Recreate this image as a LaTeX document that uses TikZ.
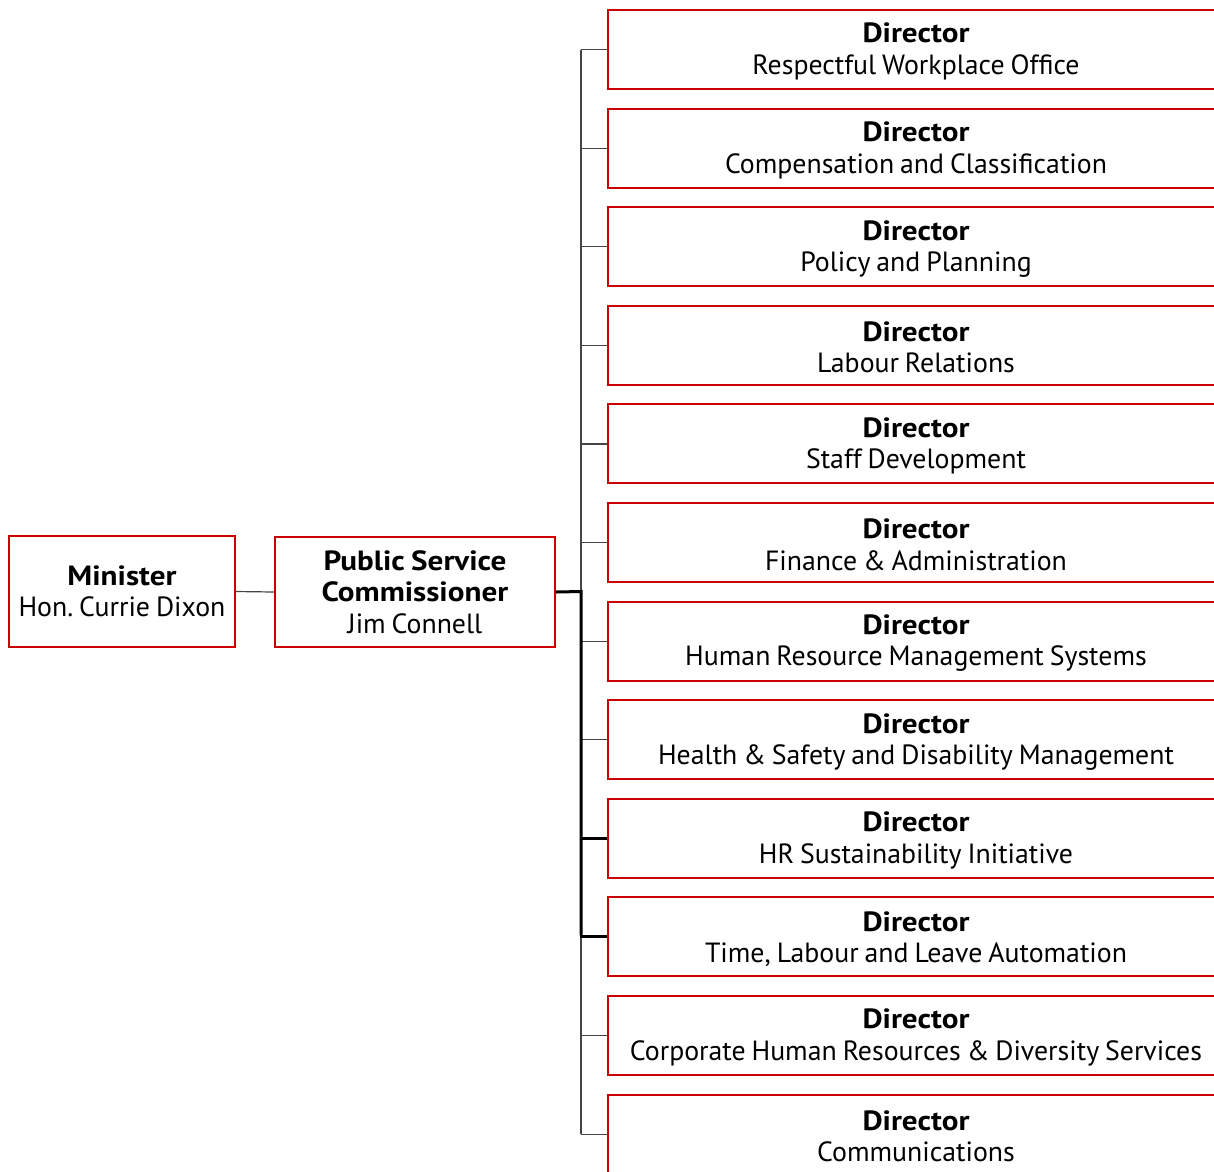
\documentclass[tikz,border=0pt]{standalone}
\usepackage{fontspec}
\setmainfont{PT Sans}[WordSpace=0.8,BoldFeatures={FakeStretch=1.12}]
\definecolor{boxred}{HTML}{CC0000}
\definecolor{linegray}{HTML}{444444}
\frenchspacing
\begin{document}
\begin{tikzpicture}[x=1pt,y=-1pt,
  box/.style={draw=boxred, line width=2pt, align=center, inner sep=0pt,
    font=\fontsize{27.8}{31.5}\selectfont},
  dirbox/.style={box, minimum width=616pt, minimum height=79pt, anchor=west},
  thinline/.style={draw=linegray, line width=1.2pt},
  thickline/.style={draw=black, line width=3pt}]
\useasboundingbox (0,0) rectangle (1214,1171);
\clip (0,0) rectangle (1214,1171);
\node[box, minimum width=226pt, minimum height=111pt] (min) at (122,591.5) {\textbf{Minister}\\Hon. Currie Dixon};
\node[box, minimum width=280pt, minimum height=110pt] (psc) at (415,592) {\textbf{Public Service}\\\textbf{Commissioner}\\Jim Connell};
\foreach \i/\t in {1/Respectful Workplace Office,2/Compensation and Classification,3/Policy and Planning,4/Labour Relations,5/Staff Development,6/Finance \& Administration,7/Human Resource Management Systems,8/Health \& Safety and Disability Management,9/HR Sustainability Initiative,10/{Time, Labour and Leave Automation},11/Corporate Human Resources \& Diversity Services,12/Communications}{
  \node[dirbox] (d\i) at (607,{49.5+(\i-1)*98.6}) {\rule{0pt}{24pt}\textbf{Director}\\\t};
}
\coordinate (spine) at (581,591.5);
\draw[thinline] (min.east) -- (psc.west);
\draw[thinline] (d1.west -| spine) -- (d12.west -| spine);
\foreach \i in {1,...,12}{
  \draw[thinline] (d\i.west) -- (d\i.west -| spine);
}
\draw[thickline] (psc.east) -- (spine) -- ([yshift=1.5pt]spine |- d10.west);
\draw[thickline] (d9.west) -- (d9.west -| spine);
\draw[thickline] (d10.west) -- ([xshift=-1.5pt]d10.west -| spine);
\end{tikzpicture}
\end{document}
